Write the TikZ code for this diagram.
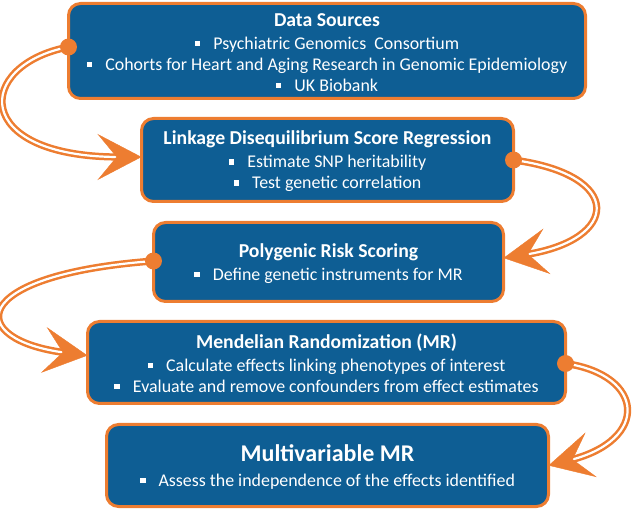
\documentclass[tikz,border=0pt]{standalone}
\usepackage{fontspec}
\setmainfont{Carlito}
\usetikzlibrary{arrows.meta}

\definecolor{boxblue}{RGB}{14,94,148}
\definecolor{linkorange}{RGB}{237,125,49}

\newcommand{\sqbul}{\rule[3.2pt]{5.5pt}{5.5pt}\hspace{13pt}}
\newcommand{\steptitle}[1]{{\fontsize{19.7}{23}\selectfont\bfseries\rule{0pt}{16.5pt}#1}}

\tikzset{
  stepbox/.style={draw=linkorange, fill=boxblue, line width=3pt, rounded corners=12pt,
    text=white, align=center, outer sep=0pt, inner sep=0pt,
    font=\fontsize{17.9}{21}\selectfont},
  link/.style={draw=linkorange, double=white, line width=2.5pt, double distance=2.2pt, shorten >=22pt},
  head/.style={tips=true, linkorange, -{Stealth[length=44pt,width=46pt,inset=19pt]}},
  dot/.style={fill=linkorange}
}

\begin{document}
\begin{tikzpicture}[x=1pt,y=1pt]
\useasboundingbox (0,0) rectangle (632,-510);

% the five steps
\node[stepbox, minimum width=517pt, minimum height=95pt] (src) at (327,-51)
  {\steptitle{Data Sources}\\[2pt]
   \sqbul Psychiatric Genomics~~Consortium\\
   \sqbul Cohorts for Heart and Aging Research in Genomic Epidemiology\\
   \sqbul UK Biobank};
\node[stepbox, minimum width=372pt, minimum height=83pt] (ldsc) at (327.5,-160)
  {\steptitle{Linkage Disequilibrium Score Regression}\\[2pt]
   \sqbul Estimate SNP heritability\\
   \sqbul Test genetic correlation};
\node[stepbox, minimum width=350pt, minimum height=79pt] (prs) at (328.5,-262)
  {\steptitle{Polygenic Risk Scoring}\\[2pt]
   \sqbul Define genetic instruments for MR};
\node[stepbox, minimum width=478pt, minimum height=82pt] (mr) at (326.5,-362.5)
  {\steptitle{Mendelian Randomization (MR)}\\[2pt]
   \sqbul Calculate effects linking phenotypes of interest\\
   \sqbul Evaluate and remove confounders from effect estimates};
\node[stepbox, minimum width=442pt, minimum height=82pt] (mvmr) at (327.5,-465.5)
  {{\fontsize{24}{28}\selectfont\bfseries\rule{0pt}{19.5pt}Multivariable MR}\\[4pt]
   \sqbul Assess the independence of the effects identified};

% connectors
\draw[link] ([yshift=4pt]src.west) .. controls (-25,-65) and (-30,-157) .. ([yshift=3pt]ldsc.west);
\path[head] (-30,-157) -- ([yshift=3pt]ldsc.west);
\fill[dot] ([yshift=4pt]src.west) circle (8.5pt);

\draw[link] (ldsc.east) .. controls (625,-175) and (620,-240) .. ([yshift=4pt]prs.east);
\path[head] (620,-240) -- ([yshift=4pt]prs.east);
\fill[dot] (ldsc.east) circle (8.5pt);

\draw[link] ([yshift=1pt]prs.west) .. controls (-35,-275) and (-35,-340) .. ([yshift=7pt]mr.west);
\path[head] (-35,-340) -- ([yshift=7pt]mr.west);
\fill[dot] ([yshift=1pt]prs.west) circle (8.5pt);

\draw[link] ([yshift=-1pt]mr.east) .. controls (645,-375) and (650,-440) .. (mvmr.east);
\path[head] (650,-440) -- (mvmr.east);
\fill[dot] ([yshift=-1pt]mr.east) circle (8.5pt);
\end{tikzpicture}
\end{document}
